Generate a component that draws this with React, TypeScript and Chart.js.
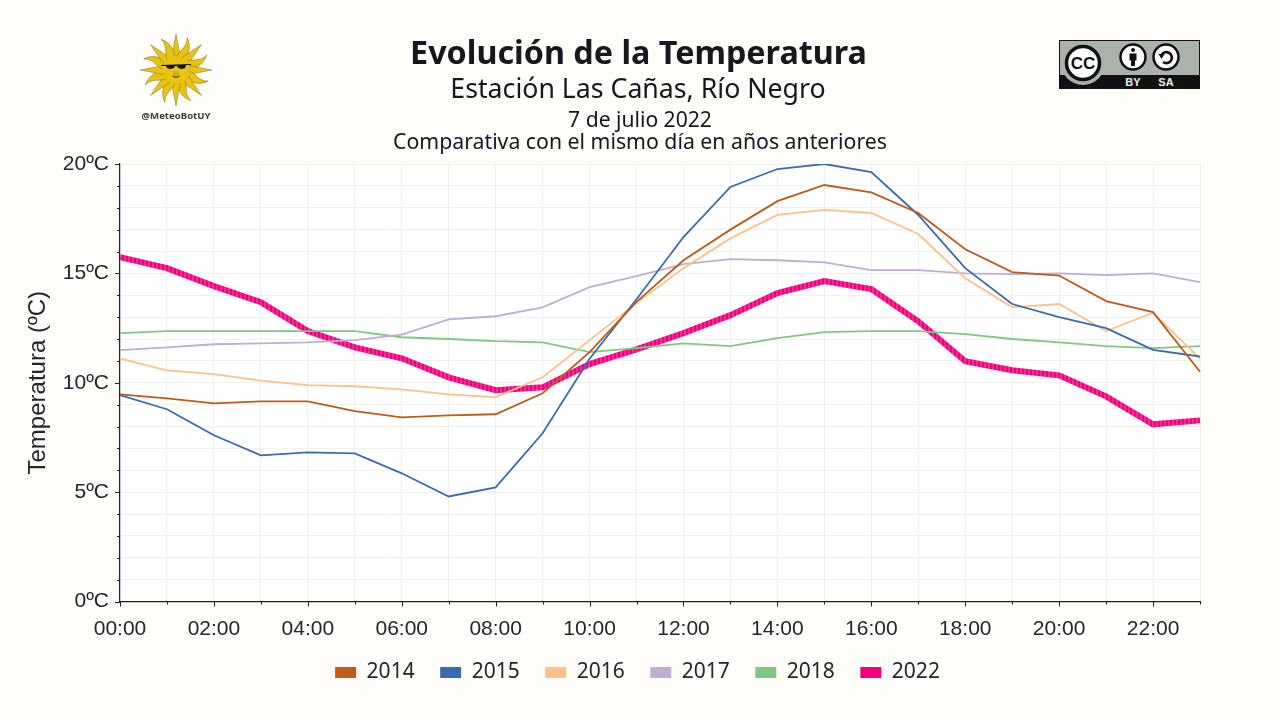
import { useEffect, useRef } from 'react';
import { Chart, registerables } from 'chart.js';

Chart.register(...registerables);

const hours = ['00:00', '01:00', '02:00', '03:00', '04:00', '05:00', '06:00', '07:00', '08:00', '09:00', '10:00', '11:00',
  '12:00', '13:00', '14:00', '15:00', '16:00', '17:00', '18:00', '19:00', '20:00', '21:00', '22:00', '23:00'];

const t2014 = [9.47, 9.29, 9.06, 9.15, 9.15, 8.7, 8.42, 8.51, 8.56, 9.52, 11.4, 13.7, 15.6, 17.0, 18.3, 19.04, 18.7, 17.76, 16.1, 15.06, 14.9, 13.73, 13.23, 10.5];
const t2015 = [9.43, 8.79, 7.6, 6.68, 6.82, 6.77, 5.86, 4.8, 5.22, 7.69, 11.1, 13.82, 16.66, 18.95, 19.77, 20.0, 19.63, 17.67, 15.24, 13.6, 13.0, 12.5, 11.5, 11.2];
const t2016 = [11.1, 10.57, 10.39, 10.1, 9.89, 9.84, 9.7, 9.47, 9.34, 10.25, 11.95, 13.64, 15.24, 16.6, 17.67, 17.9, 17.76, 16.8, 14.78, 13.45, 13.6, 12.36, 13.2, 11.1];
const t2017 = [11.49, 11.62, 11.76, 11.8, 11.85, 11.95, 12.2, 12.9, 13.04, 13.45, 14.37, 14.87, 15.42, 15.65, 15.6, 15.5, 15.15, 15.15, 15.0, 14.97, 15.0, 14.92, 15.0, 14.6];
const t2018 = [12.27, 12.36, 12.36, 12.36, 12.36, 12.36, 12.08, 12.0, 11.9, 11.85, 11.4, 11.58, 11.8, 11.67, 12.04, 12.31, 12.36, 12.36, 12.22, 12.0, 11.85, 11.67, 11.58, 11.67];
const t2022 = [15.74, 15.24, 14.42, 13.68, 12.36, 11.62, 11.12, 10.25, 9.66, 9.79, 10.85, 11.53, 12.27, 13.09, 14.1, 14.65, 14.28, 12.81, 10.98, 10.57, 10.34, 9.38, 8.1, 8.28];

const PAGE = '#fffdf9';
const INK = '#26262a';
const AXIS_FONT = '"Liberation Sans", sans-serif';
const TEXT_FONT = '"Noto Sans", sans-serif';

// bandas finas como en la línea gruesa del original
function stripes() {
  const c = document.createElement('canvas');
  c.width = 4;
  c.height = 4;
  const g = c.getContext('2d')!;
  g.fillStyle = '#f0027f';
  g.fillRect(0, 0, 4, 4);
  g.fillStyle = '#f52a94';
  g.fillRect(0, 0, 2, 4);
  return g.createPattern(c, 'repeat')!;
}

const plotBackground = {
  id: 'plotBackground',
  beforeDraw(chart: any) {
    const { ctx, chartArea: a } = chart;
    ctx.save();
    ctx.fillStyle = '#ffffff';
    ctx.fillRect(a.left, a.top, a.right - a.left, a.bottom - a.top);
    ctx.restore();
  },
};

// marcas de eje: largas en las mayores, cortas en las menores
const axisTicks = {
  id: 'axisTicks',
  afterDraw(chart: any) {
    const { ctx, chartArea: a, scales } = chart;
    ctx.save();
    ctx.strokeStyle = '#222222';
    ctx.lineWidth = 1;
    for (let v = 0; v <= 20; v++) {
      const y = Math.round(scales.y.getPixelForValue(v)) + 0.5;
      ctx.beginPath();
      ctx.moveTo(a.left, y);
      ctx.lineTo(a.left - (v % 5 === 0 ? 5 : 3), y);
      ctx.stroke();
    }
    hours.forEach((_, i) => {
      const x = Math.round(scales.x.getPixelForValue(i)) + 0.5;
      ctx.beginPath();
      ctx.moveTo(x, a.bottom);
      ctx.lineTo(x, a.bottom + (i % 2 === 0 ? 5 : 3));
      ctx.stroke();
    });
    ctx.restore();
  },
};

function Sun() {
  const rays = [];
  for (let i = 0; i < 16; i++) {
    const angle = (i * 360) / 16;
    rays.push(
      i % 2 === 0 ? (
        <path key={i} d="M-4.5,-13 L0,-36 L4.5,-13 Z" fill="#e8c214" stroke="#5a4a10" strokeWidth="0.35" transform={`rotate(${angle})`} />
      ) : (
        <path key={i} d="M-4,-13 C-5,-20 2,-24 -2,-34 C5,-28 6,-20 4,-13 Z" fill="#e8c214" stroke="#5a4a10" strokeWidth="0.35" transform={`rotate(${angle})`} />
      ),
    );
  }
  return (
    <svg width="110" height="110" viewBox="-55 -50 110 110" style={{ position: 'absolute', left: 121, top: 20 }}>
      {rays}
      <circle r="14" fill="#e8c214" />
      <path d="M-15,-5 L15,-6 L15,-5 L10,-5 L9,-2 L6,-1 L2,-2 L1,-4 L-1,-4 L-2,-2 L-6,-1 L-9,-2 L-10,-4 L-15,-4 Z" fill="#111" />
      <path d="M-4,6 Q0,9 4,6 Q0,7 -4,6 Z" fill="#6b4a10" stroke="#6b4a10" strokeWidth="0.6" />
      <path d="M-1,1 L-2,4 L2,4 L1,1" fill="none" stroke="#8a6a10" strokeWidth="0.5" />
      <text x="0" y="49" textAnchor="middle" style={{ font: `700 9.6px ${TEXT_FONT}`, fill: '#3a3a3a' }}>@MeteoBotUY</text>
    </svg>
  );
}

function Badge() {
  return (
    <svg width="141" height="49" viewBox="0 0 141 49" style={{ position: 'absolute', left: 1059, top: 40 }}>
      <rect x="0.5" y="0.5" width="140" height="48" fill="#aab2ab" stroke="#111" />
      <rect x="0" y="35" width="141" height="14" fill="#111" />
      <circle cx="24" cy="23" r="22" fill="#aab2ab" />
      <circle cx="24" cy="23" r="16.5" fill="#fff" stroke="#111" strokeWidth="3.5" />
      <text x="24" y="29" textAnchor="middle" style={{ font: '700 17px "Liberation Sans"', fill: '#111' }}>CC</text>
      <circle cx="74" cy="17" r="12.5" fill="#fff" stroke="#111" strokeWidth="2.5" />
      <circle cx="74" cy="10" r="2" fill="#111" />
      <path d="M70.5,13.5 H77.5 V20.5 H76 V26 H72 V20.5 H70.5 Z" fill="#111" />
      <circle cx="107" cy="17" r="12.5" fill="#fff" stroke="#111" strokeWidth="2.5" />
      <path d="M102.5,15 A5.5,5.5 0 1 1 104,22" fill="none" stroke="#111" strokeWidth="2.6" />
      <path d="M99.5,14 L105.5,14 L102.5,19 Z" fill="#111" />
      <text x="74" y="46" textAnchor="middle" style={{ font: '700 11px "Liberation Sans"', fill: '#eee' }}>BY</text>
      <text x="107" y="46" textAnchor="middle" style={{ font: '700 11px "Liberation Sans"', fill: '#eee' }}>SA</text>
    </svg>
  );
}

function Heading({ top, size, weight, width, children }: any) {
  return (
    <div
      style={{
        position: 'absolute',
        left: 0,
        width,
        top,
        textAlign: 'center',
        fontFamily: TEXT_FONT,
        fontSize: size,
        fontWeight: weight,
        lineHeight: '40px',
        color: '#18181c',
        whiteSpace: 'nowrap',
      }}
    >
      {children}
    </div>
  );
}

export default function App() {
  const canvasRef = useRef<HTMLCanvasElement>(null);

  useEffect(() => {
    if (!canvasRef.current) return;
    const thin = (label: string, data: number[], color: string) => ({
      label,
      data,
      borderColor: color,
      backgroundColor: color,
      borderWidth: 1.8,
      pointRadius: 0,
      tension: 0,
    });
    const chart = new Chart(canvasRef.current, {
      type: 'line',
      data: {
        labels: hours,
        datasets: [
          thin('2014', t2014, '#bf5b17'),
          thin('2015', t2015, '#386cb0'),
          thin('2016', t2016, '#fdc086'),
          thin('2017', t2017, '#beaed4'),
          thin('2018', t2018, '#7fc97f'),
          { ...thin('2022', t2022, '#f0027f'), borderColor: stripes(), borderWidth: 6 },
        ],
      },
      options: {
        responsive: false,
        animation: false,
        devicePixelRatio: 1,
        layout: { padding: { top: 164, right: 5, bottom: 27, left: 0 } },
        plugins: {
          tooltip: { enabled: false },
          legend: {
            position: 'bottom',
            labels: {
              boxWidth: 21,
              boxHeight: 11,
              padding: 25.5,
              color: INK,
              font: { family: TEXT_FONT, size: 21 },
              generateLabels: (c: any) =>
                Chart.defaults.plugins.legend.labels.generateLabels(c).map((item: any) => ({
                  ...item,
                  strokeStyle: item.fillStyle,
                  lineWidth: 0,
                })),
            },
          },
        },
        scales: {
          x: {
            afterFit: (s: any) => { s.height = 35; },
            grid: { color: '#f2f0ea', lineWidth: 1, drawTicks: false },
            border: { color: '#222222', width: 1.2 },
            ticks: {
              autoSkip: false,
              maxRotation: 0,
              padding: 15,
              color: INK,
              font: { family: AXIS_FONT, size: 21 },
              callback: (_v: any, i: number) => (i % 2 === 0 ? hours[i] : ''),
            },
          },
          y: {
            min: 0,
            max: 20,
            afterFit: (s: any) => { s.width = 120; },
            grid: { color: '#f2f0ea', lineWidth: 1, drawTicks: false },
            border: { color: '#222222', width: 1.2 },
            title: {
              display: true,
              text: 'Temperatura (ºC)',
              color: INK,
              font: { family: AXIS_FONT, size: 24 },
              padding: { top: 24, bottom: 0 },
            },
            ticks: {
              stepSize: 1,
              autoSkip: false,
              padding: 11,
              color: INK,
              font: { family: AXIS_FONT, size: 21 },
              callback: (v: any) => (v % 5 === 0 ? `${v}ºC` : ''),
            },
          },
          // eje vacío: reserva el margen derecho para que la leyenda quede centrada en la página
          rightGap: {
            position: 'right',
            afterFit: (s: any) => { s.width = 75; },
            grid: { display: false },
            border: { display: false },
            ticks: { display: false },
          },
        },
      } as any,
      plugins: [plotBackground, axisTicks],
    });
    return () => chart.destroy();
  }, []);

  return (
    <div style={{ position: 'fixed', left: 0, top: 0, width: 1280, height: 720, background: PAGE, overflow: 'hidden' }}>
      <canvas ref={canvasRef} width={1280} height={720} style={{ position: 'absolute', left: 0, top: 0 }} />
      <Heading top={31} size={32.3} weight={700} width={1277}>Evolución de la Temperatura</Heading>
      <Heading top={68} size={26.7} weight={400} width={1276}>Estación Las Cañas, Río Negro</Heading>
      <Heading top={99} size={21.1} weight={400} width={1280}>7 de julio 2022</Heading>
      <Heading top={121} size={21.25} weight={400} width={1280}>Comparativa con el mismo día en años anteriores</Heading>
      <Sun />
      <Badge />
    </div>
  );
}
